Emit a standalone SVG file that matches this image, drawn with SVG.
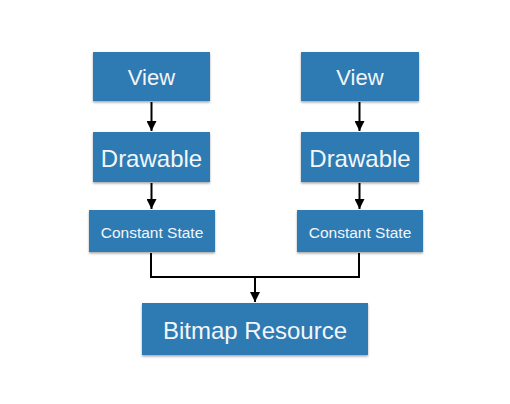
<svg xmlns="http://www.w3.org/2000/svg" width="510" height="404" viewBox="0 0 510 404">
<defs>
<filter id="sh" x="-10%" y="-10%" width="130%" height="140%">
<feDropShadow dx="0" dy="1.5" stdDeviation="1.2" flood-color="#000" flood-opacity="0.35"/>
</filter>
<marker id="ah" viewBox="0 0 10 10" refX="10" refY="5" markerWidth="10" markerHeight="10" markerUnits="userSpaceOnUse" orient="auto">
<path d="M0,0 L10,5 L0,10 z" fill="#000"/>
</marker>
</defs>
<style>
.box{fill:#2f7ab2;filter:url(#sh)}
.t{fill:#f2f6fa;font-family:"Liberation Sans",Arial,sans-serif;text-anchor:middle}
.c{stroke:#000;stroke-width:2;fill:none}
</style>
<rect width="510" height="404" fill="#fff"/>
<g id="view1"><rect class="box" x="93" y="52" width="117" height="49"/><text class="t" x="151.5" y="85" font-size="22">View</text></g>
<g id="drawable1"><rect class="box" x="93" y="132" width="117" height="50"/><text class="t" x="151.5" y="166.5" font-size="24">Drawable</text></g>
<g id="cs1"><rect class="box" x="89" y="210" width="126" height="42"/><text class="t" x="152" y="238" font-size="15.5">Constant State</text></g>
<g id="view2"><rect class="box" x="301" y="52" width="118" height="49"/><text class="t" x="360" y="85" font-size="22">View</text></g>
<g id="drawable2"><rect class="box" x="301" y="132" width="118" height="50"/><text class="t" x="360" y="166.5" font-size="24">Drawable</text></g>
<g id="cs2"><rect class="box" x="297" y="210" width="126" height="42"/><text class="t" x="360" y="238" font-size="15.5">Constant State</text></g>
<g id="bitmap"><rect class="box" x="142" y="303" width="226" height="52"/><text class="t" x="255" y="338.5" font-size="24">Bitmap Resource</text></g>
<g id="connectors">
<line class="c" x1="151.5" y1="102" x2="151.5" y2="131" marker-end="url(#ah)"/>
<line class="c" x1="151.5" y1="183" x2="151.5" y2="209" marker-end="url(#ah)"/>
<line class="c" x1="359.5" y1="102" x2="359.5" y2="131" marker-end="url(#ah)"/>
<line class="c" x1="359.5" y1="183" x2="359.5" y2="209" marker-end="url(#ah)"/>
<polyline class="c" points="151,253 151,277 359,277 359,253"/>
<line class="c" x1="255" y1="277" x2="255" y2="302" marker-end="url(#ah)"/>
</g>
</svg>
